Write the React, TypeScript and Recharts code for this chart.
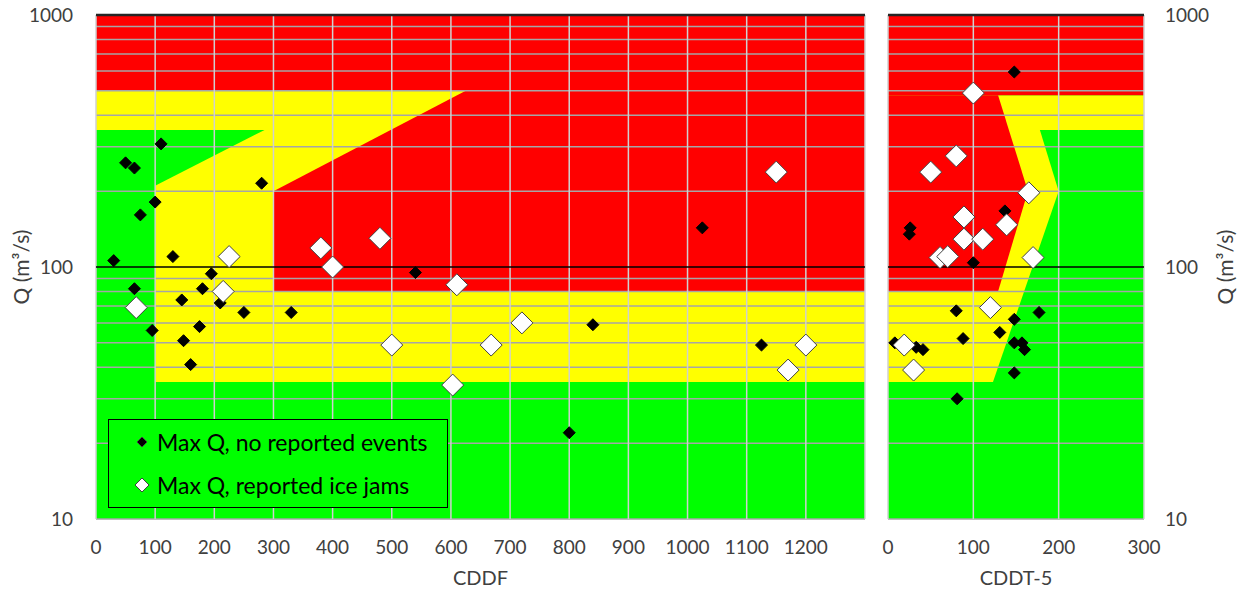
import React from "react";
import {
  ComposedChart,
  Area,
  Scatter,
  XAxis,
  YAxis,
  ReferenceLine,
  Legend,
} from "recharts";

// --- colours & text ---
const RED = "#ff0000";
const YELLOW = "#ffff00";
const GREEN = "#00ff00";
const TEXT = "#404040";
const FONT = "Lato, 'Noto Sans', sans-serif";

// --- axes ---
const qTicks = [10, 100, 1000];
const qGrid = [10, 20, 30, 40, 50, 60, 70, 80, 90, 200, 300, 400, 500, 600, 700, 800, 900];
const cddfTicks = [0, 100, 200, 300, 400, 500, 600, 700, 800, 900, 1000, 1100, 1200];
const cddfGridX = [0, 100, 200, 300, 400, 500, 600, 700, 800, 900, 1000, 1100, 1200, 1300];
const cddtTicks = [0, 100, 200, 300];

// --- CDDF panel zones (x, [low, high]) ---
const cddfGreenBase = [{ x: 0, band: [10, 1000] }, { x: 1300, band: [10, 1000] }];
const cddfYellow = [
  { x: 0, band: [350, 500] },
  { x: 100, band: [350, 500] },
  { x: 100, band: [35, 500] },
  { x: 1300, band: [35, 500] },
];
const cddfGreenWedge = [{ x: 100, band: [210, 350] }, { x: 285, band: [350, 350] }];
const cddfRedTop = [{ x: 0, band: [500, 1000] }, { x: 1300, band: [500, 1000] }];
const cddfRedBlock = [
  { x: 300, band: [80, 200] },
  { x: 625, band: [80, 500] },
  { x: 1300, band: [80, 500] },
];

// --- CDDT-5 panel zones ---
const cddtGreenBase = [{ x: 0, band: [10, 1000] }, { x: 300, band: [10, 1000] }];
const cddtYellow = [{ x: 0, band: [35, 480] }, { x: 300, band: [35, 480] }];
const cddtGreenLow = [
  { x: 123, band: [35, 35] },
  { x: 200, band: [35, 200] },
  { x: 300, band: [35, 200] },
];
const cddtGreenHigh = [
  { x: 178, band: [350, 350] },
  { x: 200, band: [200, 350] },
  { x: 300, band: [200, 350] },
];
const cddtRedTop = [{ x: 0, band: [480, 1000] }, { x: 300, band: [480, 1000] }];
const cddtRedChevron = [
  { x: 0, band: [80, 480] },
  { x: 129, band: [80, 480] },
  { x: 164, band: [200, 200] },
];

// --- observations ---
const cddfNoEvents = [
  { x: 110, y: 308 }, { x: 50, y: 259 }, { x: 65, y: 247 }, { x: 280, y: 215 },
  { x: 100, y: 181 }, { x: 75, y: 161 }, { x: 30, y: 106 }, { x: 130, y: 110 },
  { x: 195, y: 94 }, { x: 65, y: 82 }, { x: 180, y: 82 }, { x: 145, y: 74 },
  { x: 210, y: 72 }, { x: 250, y: 66 }, { x: 330, y: 66 }, { x: 95, y: 56 },
  { x: 175, y: 58 }, { x: 148, y: 51 }, { x: 160, y: 41 }, { x: 540, y: 95 },
  { x: 1025, y: 143 }, { x: 840, y: 59 }, { x: 1125, y: 49 }, { x: 800, y: 22 },
];
const cddfIceJams = [
  { x: 225, y: 110 }, { x: 380, y: 119 }, { x: 480, y: 130 }, { x: 400, y: 100 },
  { x: 215, y: 80 }, { x: 1150, y: 238 }, { x: 610, y: 85 }, { x: 68, y: 69 },
  { x: 500, y: 49 }, { x: 720, y: 60 }, { x: 668, y: 49 }, { x: 603, y: 34 },
  { x: 1200, y: 49 }, { x: 1170, y: 39 },
];
const cddtNoEvents = [
  { x: 148, y: 594 }, { x: 137, y: 167 }, { x: 26, y: 143 }, { x: 25, y: 135 },
  { x: 100, y: 104 }, { x: 80, y: 67 }, { x: 148, y: 62 }, { x: 177, y: 66 },
  { x: 131, y: 55 }, { x: 88, y: 52 }, { x: 8, y: 50 }, { x: 33, y: 48 },
  { x: 41, y: 47 }, { x: 148, y: 50 }, { x: 157, y: 50 }, { x: 160, y: 47 },
  { x: 148, y: 38 }, { x: 81, y: 30 },
];
const cddtIceJams = [
  { x: 100, y: 490 }, { x: 80, y: 276 }, { x: 50, y: 238 }, { x: 165, y: 197 },
  { x: 89, y: 158 }, { x: 139, y: 147 }, { x: 89, y: 129 }, { x: 111, y: 129 },
  { x: 61, y: 109 }, { x: 70, y: 110 }, { x: 170, y: 109 }, { x: 120, y: 69 },
  { x: 19, y: 49 }, { x: 30, y: 39 },
];

const NO_EVENTS = "Max Q, no reported events";
const ICE_JAMS = "Max Q, reported ice jams";

const tickStyle = { fill: TEXT, fontSize: 19, fontFamily: FONT };
const labelStyle = { fill: TEXT, fontSize: 20, fontFamily: FONT };

const Diamond = ({ cx, cy, r, fill, stroke }: any) => (
  <polygon
    points={`${cx},${cy - r} ${cx + r},${cy} ${cx},${cy + r} ${cx - r},${cy}`}
    fill={fill}
    stroke={stroke}
    strokeWidth={1}
  />
);

const blackShape = (p: any) => <Diamond cx={p.cx} cy={p.cy} r={6} fill="#000" stroke="#000" />;
const whiteShape = (p: any) => <Diamond cx={p.cx} cy={p.cy} r={11} fill="#fff" stroke="#404040" />;

const zone = (key: string, data: any[], fill: string) => (
  <Area
    key={key}
    data={data}
    dataKey="band"
    type="linear"
    fill={fill}
    fillOpacity={1}
    stroke="none"
    dot={false}
    activeDot={false}
    isAnimationActive={false}
  />
);

// gridlines drawn as reference lines so they sit above the coloured zones
const gridLines = (xs: number[]) => [
  ...qGrid.map((v) => <ReferenceLine key={`h${v}`} y={v} stroke="#a6a6a6" strokeWidth={1.5} />),
  ...xs.map((v) => <ReferenceLine key={`v${v}`} x={v} stroke="#d0d0d0" strokeWidth={1.5} />),
];

const LegendBox = () => (
  <div
    style={{
      width: 340,
      height: 89,
      boxSizing: "border-box",
      border: "1.5px solid #000",
      background: GREEN,
      fontFamily: FONT,
      fontSize: 23,
      color: "#000",
      padding: "0 0 0 24px",
    }}
  >
    {[
      { label: NO_EVENTS, fill: "#000", r: 5 },
      { label: ICE_JAMS, fill: "#fff", r: 7 },
    ].map((item) => (
      <div key={item.label} style={{ display: "flex", alignItems: "center", height: 43 }}>
        <svg width={18} height={18} style={{ marginRight: 6 }}>
          <Diamond cx={9} cy={9} r={item.r} fill={item.fill} stroke="#404040" />
        </svg>
        <span>{item.label}</span>
      </div>
    ))}
  </div>
);

export default function App() {
  return (
    <div style={{ position: "absolute", left: 0, top: 0, width: 1245, height: 590, background: "#fff", fontFamily: FONT }}>
      <div style={{ position: "absolute", left: 0, top: 0 }}>
        <ComposedChart width={880} height={590} margin={{ top: 15, right: 15, bottom: 0, left: 0 }}>
          <XAxis
            type="number"
            dataKey="x"
            domain={[0, 1300]}
            ticks={cddfTicks}
            allowDataOverflow
            axisLine={false}
            tickLine={false}
            tickSize={0}
            tickMargin={22}
            height={71}
            tick={tickStyle}
            label={{ value: "CDDF", position: "insideBottom", offset: 5, style: labelStyle }}
          />
          <YAxis
            type="number"
            dataKey="y"
            scale="log"
            domain={[10, 1000]}
            ticks={qTicks}
            allowDataOverflow
            width={96}
            axisLine={false}
            tickLine={false}
            tickSize={0}
            tickMargin={23}
            tick={tickStyle}
            label={{ value: "Q (m³/s)", angle: -90, position: "insideLeft", offset: 22, style: { ...labelStyle, fontSize: 21, textAnchor: "middle" } }}
          />
          {zone("g", cddfGreenBase, GREEN)}
          {zone("y", cddfYellow, YELLOW)}
          {zone("gw", cddfGreenWedge, GREEN)}
          {zone("rt", cddfRedTop, RED)}
          {zone("rb", cddfRedBlock, RED)}
          {gridLines(cddfGridX)}
          <ReferenceLine y={100} stroke="#000" strokeWidth={1.5} />
          <ReferenceLine y={1000} stroke="#262626" strokeWidth={2.5} />
          <Scatter name={NO_EVENTS} data={cddfNoEvents} fill="#000" shape={blackShape} isAnimationActive={false} />
          <Scatter name={ICE_JAMS} data={cddfIceJams} fill="#fff" shape={whiteShape} isAnimationActive={false} />
          <Legend
            layout="horizontal"
            verticalAlign="middle"
            align="center"
            content={() => <LegendBox />}
            wrapperStyle={{ left: 108, top: 419, width: 340, height: 89 }}
          />
        </ComposedChart>
      </div>
      <div style={{ position: "absolute", left: 870, top: 0 }}>
        <ComposedChart width={375} height={590} margin={{ top: 15, right: 0, bottom: 0, left: 18 }}>
          <XAxis
            type="number"
            dataKey="x"
            domain={[0, 300]}
            ticks={cddtTicks}
            allowDataOverflow
            axisLine={false}
            tickLine={false}
            tickSize={0}
            tickMargin={22}
            height={71}
            tick={tickStyle}
            label={{ value: "CDDT-5", position: "insideBottom", offset: 5, style: labelStyle }}
          />
          <YAxis
            type="number"
            dataKey="y"
            orientation="right"
            scale="log"
            domain={[10, 1000]}
            ticks={qTicks}
            allowDataOverflow
            width={101}
            axisLine={false}
            tickLine={false}
            tickSize={0}
            tickMargin={21}
            tick={tickStyle}
            label={{ value: "Q (m³/s)", angle: -90, position: "insideRight", offset: 19, style: { ...labelStyle, fontSize: 21, textAnchor: "middle" } }}
          />
          {zone("g", cddtGreenBase, GREEN)}
          {zone("y", cddtYellow, YELLOW)}
          {zone("gl", cddtGreenLow, GREEN)}
          {zone("gh", cddtGreenHigh, GREEN)}
          {zone("rt", cddtRedTop, RED)}
          {zone("rc", cddtRedChevron, RED)}
          {gridLines(cddtTicks)}
          <ReferenceLine y={100} stroke="#000" strokeWidth={1.5} />
          <ReferenceLine y={1000} stroke="#262626" strokeWidth={2.5} />
          <Scatter name={NO_EVENTS} data={cddtNoEvents} fill="#000" shape={blackShape} isAnimationActive={false} />
          <Scatter name={ICE_JAMS} data={cddtIceJams} fill="#fff" shape={whiteShape} isAnimationActive={false} />
        </ComposedChart>
      </div>
    </div>
  );
}
